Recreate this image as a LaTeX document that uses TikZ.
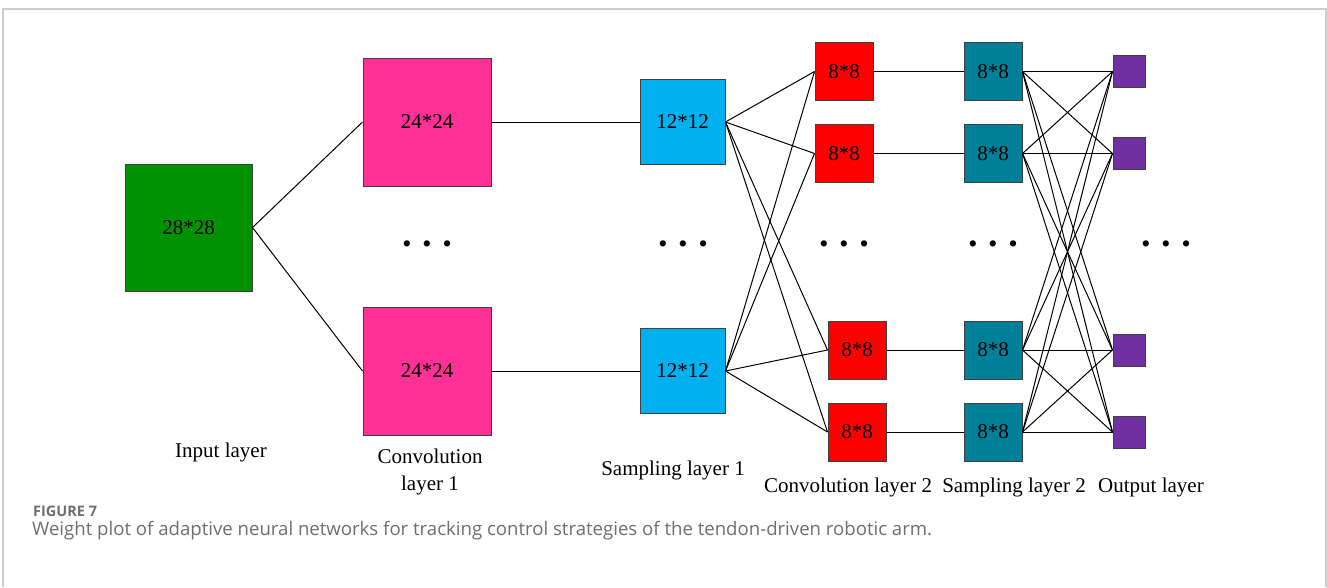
\documentclass[tikz,border=0pt]{standalone}
\usepackage{fontspec}
\setmainfont{Liberation Serif}
\newfontfamily\capfont{Open Sans}
\usepackage{tikz}
\usetikzlibrary{positioning}

\definecolor{inGreen}{RGB}{0,146,0}
\definecolor{convPink}{RGB}{255,48,150}
\definecolor{sampBlue}{RGB}{0,176,240}
\definecolor{convRed}{RGB}{255,0,0}
\definecolor{sampTeal}{RGB}{0,128,152}
\definecolor{outPurple}{RGB}{112,48,160}
\definecolor{frameGray}{RGB}{205,205,205}
\definecolor{capGray}{RGB}{110,110,110}

\newcommand{\threedots}{\textbullet\hspace{11pt}\textbullet\hspace{11pt}\textbullet}

\begin{document}
\begin{tikzpicture}[x=1pt, y=-1pt,
  fmap/.style={rectangle, draw=black!75, line width=1pt, inner sep=0pt,
    font=\fontsize{21}{24}\selectfont},
  conn/.style={line width=1pt},
  dotrow/.style={inner sep=0pt, font=\fontsize{26}{28}\selectfont},
  lbl/.style={align=center, font=\fontsize{21}{27}\selectfont},
]
  \useasboundingbox (0,0) rectangle (1327,587);
  % panel frame
  \draw[frameGray, line width=2pt] (3,587) -- (3,9) -- (1326,9) -- (1326,587);

  % input and first convolution
  \node[fmap, fill=inGreen, minimum size=127] (in) at (188.5,227.5) {28*28};
  \node[fmap, fill=convPink, minimum size=128] (c1a) at (427,122) {24*24};
  \node[fmap, fill=convPink, minimum size=128] (c1b) at (427,371) {24*24};
  % first sampling
  \node[fmap, fill=sampBlue, minimum size=85] (s1a) at (682.5,122) {12*12};
  \node[fmap, fill=sampBlue, minimum size=85] (s1b) at (682.5,371) {12*12};
  % second convolution
  \node[fmap, fill=convRed, minimum size=58] (c2a) at (844,71.5) {8*8};
  \node[fmap, fill=convRed, minimum size=58] (c2b) at (844,153.5) {8*8};
  \node[fmap, fill=convRed, minimum size=58] (c2c) at (857,350) {8*8};
  \node[fmap, fill=convRed, minimum size=58] (c2d) at (857,432) {8*8};
  % second sampling
  \node[fmap, fill=sampTeal, minimum size=58] (s2a) at (993,71.5) {8*8};
  \node[fmap, fill=sampTeal, minimum size=58] (s2b) at (993,153.5) {8*8};
  \node[fmap, fill=sampTeal, minimum size=58] (s2c) at (993,350) {8*8};
  \node[fmap, fill=sampTeal, minimum size=58] (s2d) at (993,432) {8*8};
  % outputs
  \node[fmap, fill=outPurple, minimum size=32] (oa) at (1129,71.5) {};
  \node[fmap, fill=outPurple, minimum size=32] (ob) at (1129,153.5) {};
  \node[fmap, fill=outPurple, minimum size=32] (oc) at (1129,350) {};
  \node[fmap, fill=outPurple, minimum size=32] (od) at (1129,432) {};

  % omitted maps
  \node[dotrow] (d1) at (427,247) {\threedots};
  \node[dotrow] (d2) at (683,247) {\threedots};
  \node[dotrow] (d3) at (844,247) {\threedots};
  \node[dotrow] (d4) at (993,247) {\threedots};
  \node[dotrow] (d5) at (1166,247) {\threedots};

  % connections
  \draw[conn] (in.east) -- (c1a.west);
  \draw[conn] (in.east) -- (c1b.west);
  \draw[conn] (c1a.east) -- (s1a.west);
  \draw[conn] (c1b.east) -- (s1b.west);
  \foreach \s in {s1a,s1b}
    \foreach \c in {c2a,c2b,c2c,c2d}
      \draw[conn] (\s.east) -- (\c.west);
  \draw[conn] (c2a.east) -- (s2a.west);
  \draw[conn] (c2b.east) -- (s2b.west);
  \draw[conn] (c2c.east) -- (s2c.west);
  \draw[conn] (c2d.east) -- (s2d.west);
  \foreach \s in {s2a,s2b,s2c,s2d}
    \foreach \o in {oa,ob,oc,od}
      \draw[conn] (\s.east) -- (\o.west);

  % layer names
  \node[lbl] (lin) at (221,452) {Input layer};
  \node[lbl] (lc1) at (430,472) {Convolution\\layer 1};
  \node[lbl] (ls1) at (673,470) {Sampling layer 1};
  \node[lbl] (lc2) at (848,487) {Convolution layer 2};
  \node[lbl] (ls2) at (1014,487) {Sampling layer 2};
  \node[lbl] (lout) at (1151,487) {Output layer};

  % caption
  \node[anchor=base west, inner sep=0pt, text=capGray,
    font=\capfont\bfseries\fontsize{14.5}{16}\selectfont] (fig) at (33,516) {FIGURE 7};
  \node[anchor=base west, inner sep=0pt, text=capGray,
    font=\capfont\fontsize{18.6}{21}\selectfont] (cap) at (32,535)
    {Weight plot of adaptive neural networks for tracking control strategies of the tendon-driven robotic arm.};
\end{tikzpicture}
\end{document}
